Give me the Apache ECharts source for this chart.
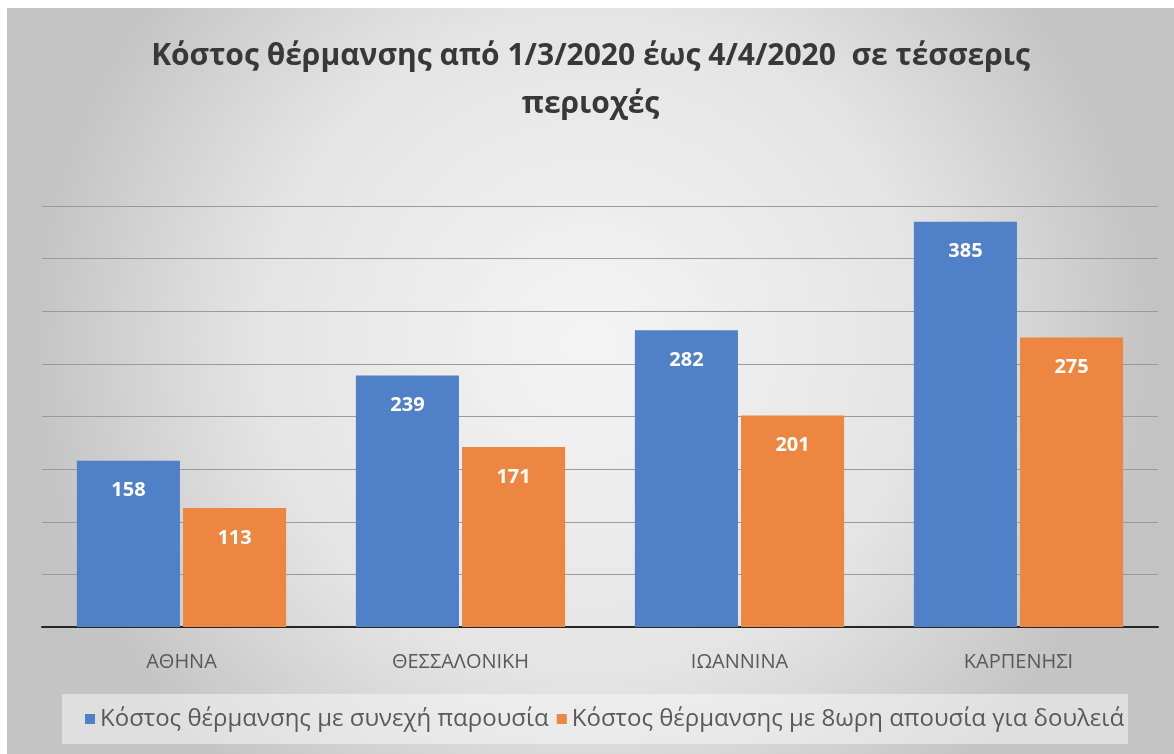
<!DOCTYPE html>
<html>
<head>
<meta charset="utf-8">
<script src="https://cdn.jsdelivr.net/npm/echarts@6/dist/echarts.min.js"></script>
<style>
  html, body { margin: 0; padding: 0; background: #ffffff; }
  #chart { position: absolute; left: 7px; top: 8px; width: 1167px; height: 746px; }
</style>
</head>
<body>
<div id="chart"></div>
<script>
// περιοχές
const categories = ["ΑΘΗΝΑ", "ΘΕΣΣΑΛΟΝΙΚΗ", "ΙΩΑΝΝΙΝΑ", "ΚΑΡΠΕΝΗΣΙ"];
// κόστος με συνεχή παρουσία
const costPresent = [158, 239, 282, 385];
// κόστος με 8ωρη απουσία
const costAbsent = [113, 171, 201, 275];
const seriesNames = [
  "Κόστος θέρμανσης με συνεχή παρουσία",
  "Κόστος θέρμανσης με 8ωρη απουσία για δουλειά"
];

const myChart = echarts.init(document.getElementById("chart"));

const labelStyle = {
  show: true,
  position: "insideTop",
  distance: 20,
  color: "#ffffff",
  fontFamily: "Open Sans",
  fontWeight: "bold",
  fontSize: 20
};

const option = {
  backgroundColor: {
    type: "radial",
    x: 0.5, y: 0.45, r: 0.75,
    colorStops: [
      { offset: 0, color: "#f4f4f4" },
      { offset: 0.6, color: "#e4e4e4" },
      { offset: 1, color: "#c4c4c4" }
    ]
  },
  title: {
    text: "Κόστος θέρμανσης από 1/3/2020 έως 4/4/2020  σε τέσσερις\nπεριοχές",
    left: "center",
    top: 19,
    textStyle: {
      fontFamily: "Open Sans",
      fontWeight: "bold",
      fontSize: 30,
      lineHeight: 48,
      color: "#383838"
    }
  },
  legend: {
    data: seriesNames,
    bottom: 10,
    left: 55,
    itemWidth: 10,
    itemHeight: 10,
    itemGap: 8,
    icon: "rect",
    padding: [13, 4, 13, 23],
    backgroundColor: "rgba(245,245,245,0.55)",
    textStyle: {
      fontFamily: "Open Sans",
      fontSize: 24,
      color: "#595959"
    }
  },
  grid: {
    left: 35,
    right: 16,
    top: 198,
    bottom: 127,
    containLabel: false
  },
  xAxis: {
    type: "category",
    data: categories,
    axisTick: { show: false },
    axisLine: { lineStyle: { color: "#262626", width: 2 } },
    axisLabel: {
      margin: 25,
      fontFamily: "Open Sans",
      fontSize: 20,
      color: "#595959"
    }
  },
  yAxis: {
    type: "value",
    min: 0,
    max: 400,
    interval: 50,
    axisLabel: { show: false },
    axisLine: { show: false },
    axisTick: { show: false },
    splitLine: { lineStyle: { color: "#9a9a9a", width: 1 } }
  },
  series: [
    {
      name: seriesNames[0],
      type: "bar",
      data: costPresent,
      barGap: "3%",
      barCategoryGap: "25%",
      itemStyle: { color: "#5080C8" },
      label: labelStyle
    },
    {
      name: seriesNames[1],
      type: "bar",
      data: costAbsent,
      itemStyle: { color: "#EC8640" },
      label: labelStyle
    }
  ]
};

option && myChart.setOption(option);
</script>
</body>
</html>
